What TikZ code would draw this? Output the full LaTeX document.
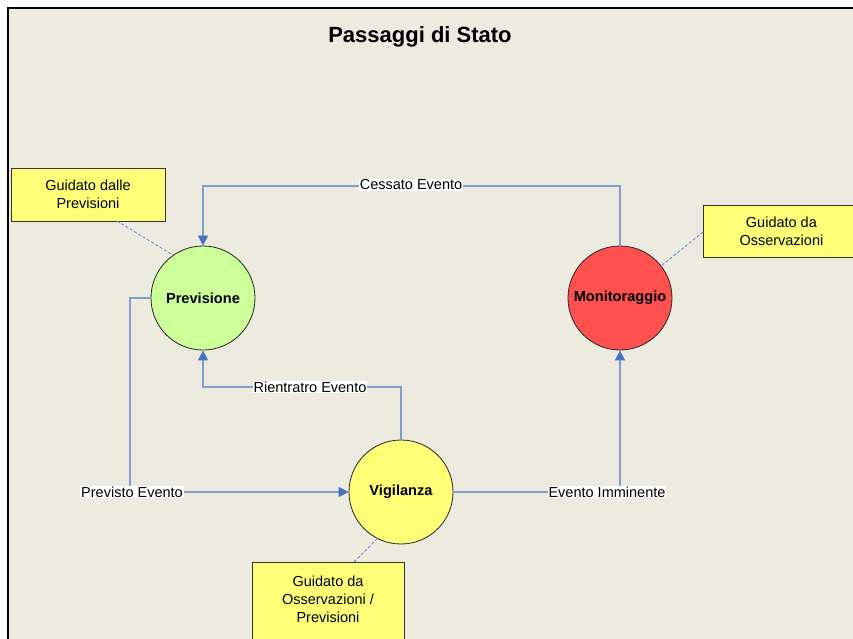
\documentclass[tikz,border=0pt]{standalone}
\usepackage{fontspec}
\setmainfont{Liberation Sans}
\usetikzlibrary{arrows.meta}
\definecolor{bgpanel}{RGB}{237,234,224}
\definecolor{conn}{RGB}{128,158,205}
\definecolor{arrowc}{RGB}{70,114,196}
\definecolor{notefill}{RGB}{255,255,119}
\definecolor{prevfill}{RGB}{204,255,153}
\definecolor{monfill}{RGB}{255,80,80}
\definecolor{vigfill}{RGB}{255,255,119}
\definecolor{dashc}{RGB}{90,135,205}
\tikzset{
  state/.style={circle, draw=black!85, line width=0.8pt, minimum size=104pt, inner sep=0pt, font=\fontsize{14.6}{17}\selectfont\bfseries},
  notebox/.style={draw=black!80, line width=0.8pt, fill=notefill, align=center, font=\fontsize{14.5}{18}\selectfont, inner sep=0pt},
  link/.style={draw=conn, line width=1.3pt},
  arr/.style={-{Triangle[length=10pt,width=10pt,fill=arrowc,color=arrowc]}},
  lbl/.style={fill=white, inner sep=1pt, font=\fontsize{14.5}{17}\selectfont},
  anno/.style={draw=dashc, line width=0.8pt, dash pattern=on 3pt off 2pt}
}
\begin{document}
\begin{tikzpicture}[x=1pt,y=-1pt]
\useasboundingbox (0,0) rectangle (853,639);
\fill[white] (0,0) rectangle (853,639);
\fill[bgpanel] (8,8) rectangle (856,642);
\draw[black, line width=2.5pt] (8,650) -- (8,8) -- (860,8);
\node[font=\fontsize{22}{26}\selectfont\bfseries] (title) at (420,37) {Passaggi di Stato};
% states
\node[state, fill=prevfill] (prev) at (203,298) {Previsione};
\node[state, fill=monfill] (mon) at (620,298) {Monitoraggio};
\node[state, fill=vigfill] (vig) at (401,492) {Vigilanza};
% notes
\node[notebox, minimum width=154pt, minimum height=53pt] (n1) at (88,194.5) {Guidato dalle\\Previsioni};
\node[notebox, minimum width=156pt, minimum height=52pt, anchor=north west] (n2) at (703,205) {Guidato da\\Osservazioni};
\node[notebox, minimum width=152pt, minimum height=90pt, anchor=north west] (n3) at (252,562) {};
\node[font=\fontsize{14.5}{18}\selectfont, align=center, anchor=north] (n3t) at (328,572) {Guidato da\\Osservazioni /\\Previsioni};
% annotation lines
\coordinate (a1) at (117,221);
\coordinate (a2) at (703,232);
\coordinate (a3) at (354,562);
\draw[anno] (a1) -- (prev.125);
\draw[anno] (a2) -- (mon.38);
\draw[anno] (a3) -- (vig.-117);
% connectors
\draw[link, arr] (mon.north) |- (411,186) -| (prev.north);
\node[lbl] (l1) at (411,185) {Cessato Evento};
\draw[link, arr] (prev.west) -| (130,420) |- (vig.west);
\node[lbl] (l2) at (132,492) {Previsto Evento};
\draw[link, arr] (vig.north) |- (310,387) -| (prev.south);
\node[lbl] (l3) at (310,387) {Rientratro Evento};
\draw[link, arr] (vig.east) -| (mon.south);
\node[lbl] (l4) at (607,492) {Evento Imminente};
\end{tikzpicture}
\end{document}
